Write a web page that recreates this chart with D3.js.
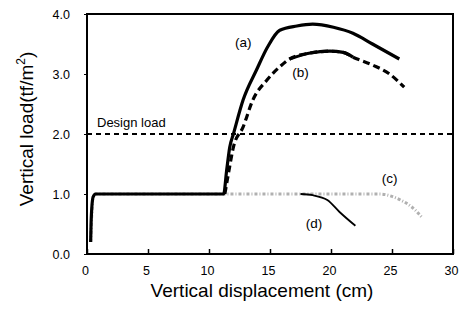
<!DOCTYPE html>
<html>
<head>
<meta charset="utf-8">
<script src="https://cdn.jsdelivr.net/npm/d3@7"></script>
<style>
  body { margin: 0; background: #fff; }
  text { font-family: "Liberation Sans", Arial, sans-serif; fill: #000; }
</style>
</head>
<body>
<div id="chart"></div>
<script>
// curve data (displacement cm, load tf/m2)
var curveA = [[0.3,0.2],[0.35,0.6],[0.5,0.95],[0.7,1.0],[11.2,1.0],[11.45,1.4],[11.7,1.78],[12.0,2.0],[12.8,2.57],
  [13.9,3.07],[14.8,3.45],[15.8,3.73],[17.2,3.8],[18.5,3.83],[20.2,3.78],[21.8,3.68],[23.4,3.5],[25.6,3.25]];
var curveB = [[11.3,1.0],[11.6,1.35],[12.0,1.78],[12.8,2.12],[13.6,2.57],[14.75,2.9],[15.8,3.12],[16.6,3.25],
  [18.3,3.35],[19.9,3.38],[21.0,3.36],[21.8,3.28],[23.4,3.15],[24.8,3.0],[26.0,2.78]];
var curveC = [[0.3,0.2],[0.5,0.95],[0.7,1.0],[11.5,1.0],[18,1.0],[24,1.0],[25,0.96],[25.7,0.9],[26.7,0.77],[27.5,0.6]];
var curveD = [[17.5,1.0],[18.5,0.98],[19.7,0.9],[20.7,0.7],[22.0,0.47]];
var designLoad = 2.0;
var xTicks = [0, 5, 10, 15, 20, 25, 30];
var yTicks = [0, 1, 2, 3, 4];
var yTickLabels = ["0.0", "1.0", "2.0", "3.0", "4.0"];
var curveLabels = [["(a)", 12.8, 3.45], ["(b)", 17.5, 2.95], ["(c)", 24.8, 1.18], ["(d)", 18.6, 0.43]];

var margin = {top: 14, right: 10, bottom: 60, left: 87},
    width = 453 - margin.left,
    height = 254 - margin.top;

var svg = d3.select("#chart")
  .append("svg")
    .attr("width", 463)
    .attr("height", 314)
  .append("g")
    .attr("transform", "translate(" + margin.left + "," + margin.top + ")");

var x = d3.scaleLinear().domain([0, 30]).range([0, width]);
var y = d3.scaleLinear().domain([0, 4]).range([height, 0]);

// x axis, ticks inside
var xa = svg.append("g")
    .attr("transform", "translate(0," + height + ")")
    .call(d3.axisBottom(x).tickValues(xTicks).tickSizeInner(-5).tickSizeOuter(0).tickPadding(12));
xa.select(".domain").remove();
xa.selectAll("line").attr("stroke-width", 1.5);
xa.selectAll("text").attr("font-size", 12.5).attr("dx", -2);

var ya = svg.append("g")
    .call(d3.axisLeft(y).tickValues(yTicks).tickFormat((d, i) => yTickLabels[i]).tickSizeInner(3).tickSizeOuter(0).tickPadding(14));
ya.select(".domain").remove();
ya.selectAll("text").attr("font-size", 12.5);

// frame
svg.append("rect")
    .attr("width", width).attr("height", height)
    .attr("fill", "none").attr("stroke", "#000").attr("stroke-width", 2);

// design load
svg.append("line")
    .attr("x1", 0).attr("x2", width)
    .attr("y1", y(designLoad)).attr("y2", y(designLoad))
    .attr("stroke", "#000").attr("stroke-width", 2).attr("stroke-dasharray", "5,4");
svg.append("text").attr("x", 10).attr("y", y(designLoad) - 7)
    .attr("font-size", 13).text("Design load");

var line = d3.line().x(d => x(d[0])).y(d => y(d[1])).curve(d3.curveMonotoneX);

// (c) grey speckled
svg.append("path").datum(curveC).attr("d", line)
    .attr("fill", "none").attr("stroke", "#b0b0b0").attr("stroke-width", 3)
    .attr("stroke-dasharray", "3,2,1,2");

// (d) thin
svg.append("path").datum(curveD).attr("d", line)
    .attr("fill", "none").attr("stroke", "#000").attr("stroke-width", 1.8);

// (b) dashed with a solid middle
svg.append("path").datum(curveB).attr("d", line)
    .attr("fill", "none").attr("stroke", "#000").attr("stroke-width", 3.2)
    .attr("stroke-dasharray", "7,4");
svg.append("path").datum(curveB.filter(d => d[0] >= 16 && d[0] <= 21.8)).attr("d", line)
    .attr("fill", "none").attr("stroke", "#000").attr("stroke-width", 3.2);

// (a) thick solid
svg.append("path").datum(curveA).attr("d", line)
    .attr("fill", "none").attr("stroke", "#000").attr("stroke-width", 3.2)
    .attr("stroke-linejoin", "round");

svg.selectAll(".lab").data(curveLabels).enter().append("text")
    .attr("class", "lab")
    .attr("x", d => x(d[1])).attr("y", d => y(d[2]))
    .attr("text-anchor", "middle").attr("font-size", 13.5)
    .text(d => d[0]);

// axis titles
svg.append("text")
    .attr("x", 262 - margin.left).attr("y", 297 - margin.top)
    .attr("text-anchor", "middle").attr("font-size", 19)
    .text("Vertical displacement (cm)");

var yt = svg.append("text")
    .attr("transform", "translate(" + (33 - margin.left) + "," + (129 - margin.top) + ") rotate(-90)")
    .attr("text-anchor", "middle").attr("font-size", 19);
yt.append("tspan").text("Vertical load(tf/m");
yt.append("tspan").attr("font-size", 12).attr("dy", -8).text("2");
yt.append("tspan").attr("dy", 8).text(")");
</script>
</body>
</html>
